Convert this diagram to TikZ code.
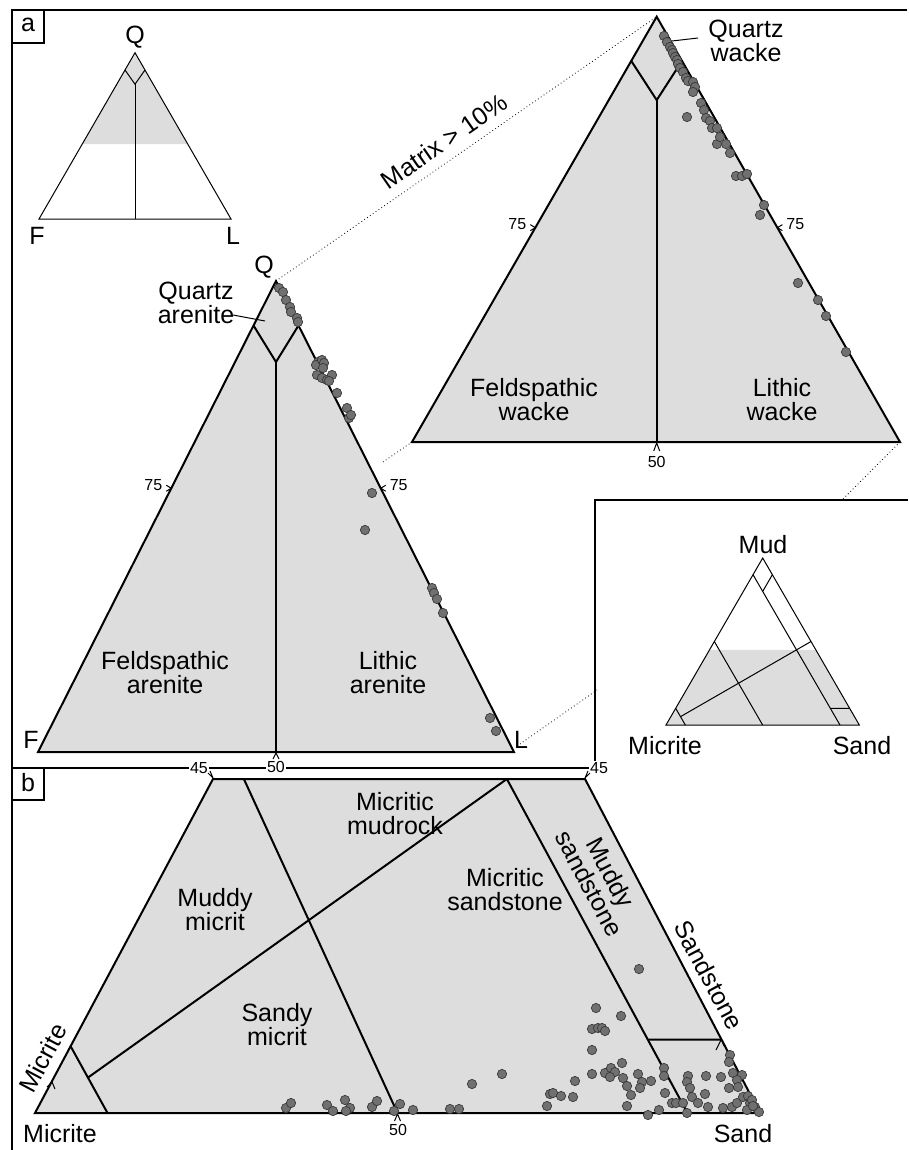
\documentclass[tikz,border=0pt]{standalone}
\usepackage{fontspec}
\setmainfont{Liberation Sans}
\usetikzlibrary{calc}
\definecolor{fieldgray}{RGB}{221,221,221}
\definecolor{dotgray}{RGB}{112,112,112}
\definecolor{dotedge}{RGB}{55,55,55}
\begin{document}
\begin{tikzpicture}[x=0.75pt,y=-0.75pt,
  every node/.style={inner sep=0pt,align=center,font=\fontsize{18.75}{18}\selectfont},
  num/.style={font=\fontsize{12}{12}\selectfont,fill=white,inner sep=1pt},
  frame/.style={line width=0.8pt},
  edge/.style={line width=1.5pt,line join=miter},
  thinedge/.style={line width=0.75pt},
  zoomline/.style={dotted,line width=0.6pt},
  sample/.style={fill=dotgray,draw=dotedge,line width=0.5pt}]
\useasboundingbox (0,0) rectangle (908,1150);
% frames
\draw [frame] (907,10) -- (12,10) -- (12,1150);
\draw [frame] (12,768) -- (595,768) -- (595,500) -- (908,500);
\draw [frame] (12,10) rectangle (44,43);
\node (pa) at (28,25) {a};
\draw [frame] (12,768) rectangle (44,800);
\node (pb) at (28,783) {b};
% small QFL
\coordinate (sQ) at (135,52.7);
\coordinate (sF) at (39,219);
\coordinate (sL) at (231,219);
\fill [fieldgray] (sQ) -- ($(sQ)!0.55!(sF)$) -- ($(sQ)!0.55!(sL)$) -- cycle;
\draw [thinedge] (sQ) -- (sF) -- (sL) -- cycle;
\draw [thinedge] ($(sQ)!0.104!(sF)$) -- (135,84.2) -- ($(sQ)!0.104!(sL)$);
\draw [thinedge] (135,84.2) -- (135,219);
\node (sQl) at (135,37) {Q};
\node (sFl) at (37,236) {F};
\node (sLl) at (233,236) {L};
% arenite triangle
\coordinate (aQ) at (276,281);
\coordinate (aF) at (38,752);
\coordinate (aL) at (514,752);
\coordinate (aV) at (276,362);
\fill [fieldgray] (aQ) -- (aF) -- (aL) -- cycle;
\draw [edge] ($(aQ)!0.0945!(aF)$) -- (aV) -- ($(aQ)!0.0945!(aL)$);
\draw [edge] (aV) -- (276,752);
\draw [edge] (aQ) -- (aF) -- (aL) -- cycle;
\node (aQl) at (264,267) {Q};
\node (aFl) at (31,740) {F};
\node (aLl) at (521,740) {L};
\node (aql) at (196,303) {Quartz\\arenite};
\draw [thinedge] (233,315) -- (265,321);
\node (afl) at (165,673) {Feldspathic\\arenite};
\node (all) at (388,673) {Lithic\\arenite};
\node [num] (a75l) at ($(aQ)!0.44!(aF)+(-18,-3)$) {75};
\node [num] (a75r) at ($(aQ)!0.44!(aL)+(18,-3)$) {75};
\node [num] (a50) at (276,767) {50};
\draw [thinedge] ($(aQ)!0.44!(aF)+(-5,-3)$) -- ($(aQ)!0.44!(aF)$) -- ($(aQ)!0.44!(aF)+(-5,3)$);
\draw [thinedge] ($(aQ)!0.44!(aL)+(5,-3)$) -- ($(aQ)!0.44!(aL)$) -- ($(aQ)!0.44!(aL)+(5,3)$);
\draw [thinedge] (273,759) -- (276,753) -- (279,759);
\foreach \x/\y in {279/288,283/292,286/300,290/307,291/312,297/318,298/322,318/362,316/365,322/360,324/363,323/368,317/375,322/378,327/380,332/375,329/381,337/393,347/408,349/418,351/415,372/493,365/530,432/588,434/593,437/599,443/613,490/718,496/731}
  \draw [sample] (\x,\y) circle (3.5pt);
% wacke triangle
\coordinate (wQ) at (656.7,16.7);
\coordinate (wF) at (412,442);
\coordinate (wL) at (900,442);
\coordinate (wV) at (656.7,100.1);
\fill [fieldgray] (wQ) -- (wF) -- (wL) -- cycle;
\draw [edge] ($(wQ)!0.104!(wF)$) -- (wV) -- ($(wQ)!0.104!(wL)$);
\draw [edge] (wV) -- (656.7,442);
\draw [edge] (wQ) -- (wF) -- (wL) -- cycle;
\node (wql) at (746,41) {Quartz\\wacke};
\draw [thinedge] (672,41) -- (698,38);
\node (wfl) at (534,400) {Feldspathic\\wacke};
\node (wll) at (782,400) {Lithic\\wacke};
\node [num] (w75l) at ($(wQ)!0.496!(wF)+(-18,-4)$) {75};
\node [num] (w75r) at ($(wQ)!0.496!(wL)+(18,-4)$) {75};
\node [num] (w50) at (656.7,462) {50};
\draw [thinedge] ($(wQ)!0.496!(wF)+(-5,-3)$) -- ($(wQ)!0.496!(wF)$) -- ($(wQ)!0.496!(wF)+(-5,3)$);
\draw [thinedge] ($(wQ)!0.496!(wL)+(5,-3)$) -- ($(wQ)!0.496!(wL)$) -- ($(wQ)!0.496!(wL)+(5,3)$);
\draw [thinedge] (653.7,451) -- (656.7,443) -- (659.7,451);
\foreach \x/\y in {664/36,667/42,670/47,672/50,673/53,675/57,677/60,678/64,680/68,683/72,686/78,688/81,693/82,695/87,693/92,687/117,701/103,704/110,706/118,710/121,712/128,717/128,717/144,720/137,726/144,730/153,736/176,742/176,747/174,764/205,760/215,798/283,818/300,826/316,846/352}
  \draw [sample] (\x,\y) circle (3.5pt);
% links
\draw [zoomline] (aQ) -- (wQ);
\draw [zoomline] (383,462) -- (wF);
\draw [zoomline] (520,744) -- (597,690);
\draw [zoomline] (wL) -- (842,500);
\node [rotate=34.8] (mx) at (444,141) {Matrix > 10\%};
% inset MCS
\coordinate (iM) at (762.7,558);
\coordinate (iC) at (666,725);
\coordinate (iS) at (859.3,725);
\fill [fieldgray] (iC) -- ($(iC)!0.45!(iM)$) -- ($(iS)!0.45!(iM)$) -- (iS) -- cycle;
\draw [thinedge] (iM) -- (iC) -- (iS) -- cycle;
\draw [thinedge] ($(iC)!0.1!(iM)$) -- ($(iC)!0.1!(iS)$);
\draw [thinedge] ($(iC)!0.5!(iM)$) -- ($(iC)!0.5!(iS)$);
\draw [thinedge] ($(iM)!0.1!(iC)$) -- ($(iS)!0.1!(iC)$);
\draw [thinedge] ($(iM)!0.1!(iS)$) -- (762.7,591.4);
\draw [thinedge] (680.5,716.65) -- ($(iM)!0.5!(iS)$);
\draw [thinedge] (830.3,708.3) -- ($(iS)!0.1!(iM)$);
\node (iMl) at (763,545) {Mud};
\node (iCl) at (665,746) {Micrite};
\node (iSl) at (862,746) {Sand};
% panel b
\coordinate (bC) at (35,1113);
\coordinate (bS) at (760,1113);
\coordinate (bR) at (585,779);
\coordinate (bL) at (213,779);
\coordinate (bT) at ($(bL)!0.79!(bR)$);
\coordinate (bM1) at ($(bC)!0.2!(bL)$);
\coordinate (bM2) at ($(bC)!0.1!(bS)$);
\coordinate (bN) at ($(bC)!0.9!(bS)$);
\fill [fieldgray] (bC) -- (bL) -- (bR) -- (bS) -- cycle;
\draw [edge] (bM1) -- (bM2);
\draw [edge] ($(bM1)!0.47!(bM2)$) -- (bT);
\draw [edge] ($(bL)!0.083!(bR)$) -- ($(bC)!0.5!(bS)$);
\draw [edge] (bT) -- (bN);
\draw [edge] ($(bN)!0.22!(bT)$) -- ($(bS)!0.22!(bR)$);
\draw [edge] (bC) -- (bL) -- (bR) -- (bS) -- cycle;
\draw [thinedge] (394.5,1121) -- (397.5,1114) -- (400.5,1121);
\draw [thinedge] (47,1087) -- (52,1082) -- (55,1089);
\draw [thinedge] (716,1050) -- (721.5,1039) -- (724,1046);
\node [num] (b45l) at (199,768) {45};
\node [num] (b45r) at (599,768) {45};
\draw [thinedge] (208,773) -- (213,778) -- (210,771);
\draw [thinedge] (590,773) -- (585,778) -- (588,771);
\node [num] (b50) at (398,1130) {50};
\node (bml) at (395,814) {Micritic\\mudrock};
\node (bmm) at (215,910) {Muddy\\micrit};
\node (bsm) at (277,1025) {Sandy\\micrit};
\node (bms) at (505,890) {Micritic\\sandstone};
\node [rotate=-62] (bmud) at (600,878) {Muddy\\sandstone};
\node [rotate=-62] (bsst) at (709,975) {Sandstone};
\node [rotate=62] (bmic) at (43,1058) {Micrite};
\node (bCl) at (60,1134) {Micrite};
\node (bSl) at (743,1134) {Sand};
\foreach \x/\y in {286/1108,291/1103,327/1105,333/1111,345/1100,350/1108,346/1111,372/1107,377/1101,394/1111,400/1104,413/1110,450/1109,459/1109,472/1084,502/1074,547/1106,550/1094,553/1093,561/1096,573/1097,575/1081,592/1074,592/1050,592/1029,598/1028,602/1028,605/1031,596/1008,621/1016,639/969,605/1073,611/1068,615/1072,610/1077,622/1063,623/1078,627/1086,631/1095,627/1106,638/1074,642/1082,640/1088,651/1081,664/1068,664/1076,665/1093,672/1103,676/1103,683/1103,648/1115,659/1110,687/1113,688/1076,687/1082,690/1088,692/1097,698/1103,705/1094,708/1107,723/1108,732/1107,737/1103,743/1097,748/1096,750/1103,755/1107,759/1112,706/1076,721/1077,730/1055,729/1062,733/1073,742/1075,737/1080,738/1087,729/1088,752/1100,747/1110,753/1106}
  \draw [sample] (\x,\y) circle (3.5pt);
\end{tikzpicture}
\end{document}
